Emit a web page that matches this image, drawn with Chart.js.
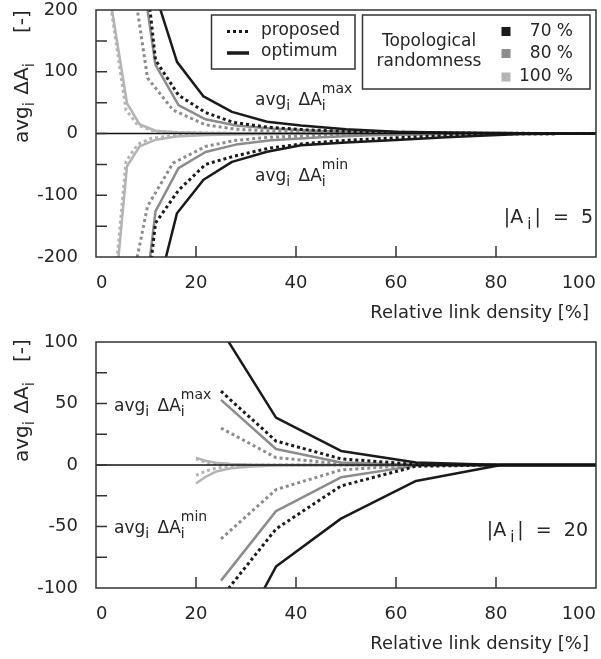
<!DOCTYPE html>
<html><head><meta charset="utf-8">
<script src="https://cdn.jsdelivr.net/npm/chart.js@4"></script>
<style>
html,body{margin:0;padding:0;background:#fff;}
#w{position:relative;width:601px;height:659px;overflow:hidden;}
.c{position:absolute;left:0;width:601px;}
</style></head><body>
<div id="w">
<div class="c" style="top:0;height:330px"><canvas id="c1"></canvas></div>
<div class="c" style="top:330px;height:329px"><canvas id="c2"></canvas></div>
</div>
<script>
// ---------- tick values ----------
const xTickValues = [0, 20, 40, 60, 80, 100];
const yTicksTop = [-200, -150, -100, -50, 0, 50, 100, 150, 200];
const yLabelsTop = [-200, -100, 0, 100, 200];
const yTicksBottom = [-100, -75, -50, -25, 0, 25, 50, 75, 100];
const yLabelsBottom = [-100, -50, 0, 50, 100];

// ---------- top panel, |A_i| = 5 ----------
const t70optX   = [10.9, 16.2, 21.5, 27.2, 34.2, 41, 50, 60, 70, 85, 100];
const t70optMax = [251, 116, 60, 35, 19, 13, 7, 3, 1.5, 0.3, 0];
const t70optMin = [-300, -129, -75, -46, -29.5, -19, -14.5, -10.5, -6, -1, 0];

const t70propX   = [10, 11.9, 16.5, 21.9, 27.5, 34.5, 42, 50, 60, 70, 80, 100];
const t70propMax = [260, 119, 62, 34, 18, 10, 6, 3.5, 2, 1, 0.3, 0];
const t70propMin = [-280, -145, -92, -50, -37, -24, -16, -11, -7, -3.5, -0.5, 0];

const t80optX   = [9.5, 11.9, 16.5, 21.9, 28, 35, 45, 55, 70, 85, 100];
const t80optMax = [245, 111, 46, 23, 13, 8, 4, 2, 0.7, 0.1, 0];
const t80optMin = [-290, -126, -56, -30, -18, -11, -6, -3, -1, -0.2, 0];

const t80propX   = [8, 10.3, 15.4, 21.9, 28, 35, 45, 60, 100];
const t80propMax = [215, 90, 38, 14, 7, 4, 2, 0.5, 0];
const t80propMin = [-210, -118, -48, -21, -11, -6, -3, -1, 0];

const t100optX   = [3, 6.2, 8.7, 12, 16, 22, 30, 40, 100];
const t100optMax = [210, 49, 15, 4, 2, 1, 0.5, 0.2, 0];
const t100optMin = [-330, -53, -21, -10, -5, -2.5, -1.2, -0.4, 0];

const t100propX   = [2.8, 6, 8.3, 11, 15, 22, 30, 100];
const t100propMax = [215, 38, 14, 5, 2, 1, 0.3, 0];
const t100propMin = [-330, -45, -18, -8, -4, -1.5, -0.5, 0];

// ---------- bottom panel, |A_i| = 20 ----------
const bX = [25, 36, 49, 64, 81, 100];
const b70optMax  = [110, 38.5, 11.4, 2, 0, 0];
const b70optMin  = [-166, -82.6, -43.6, -13, 0, 0];
const b70propMax = [60, 19.5, 5, 0.5, 0, 0];
const b70propMin = [-108, -52, -17, -1, 0, 0];
const b80optMax  = [53, 13, 2, 0, 0, 0];
const b80optMin  = [-94, -37.5, -10, -0.5, 0, 0];
const b80propMax = [30, 6, 1, 0, 0, 0];
const b80propMin = [-60, -20, -4, 0, 0, 0];

const b100X = [20, 22, 24, 27, 31, 36, 49, 100];
const b100optMax  = [6, 3.3, 1.8, 0.8, 0.3, 0.1, 0, 0];
const b100optMin  = [-15, -9.4, -5.3, -2.6, -1.2, -0.5, 0, 0];
const b100propMax = [5, 2, 1, 0.4, 0.1, 0, 0, 0];
const b100propMin = [-8.4, -4.9, -2.5, -1, -0.4, -0.1, 0, 0];

// ---------- styling ----------
const FONT = '"DejaVu Sans", Verdana, sans-serif';
const TXT = '#262626';
const C70 = '#1a1a1a', C80 = '#8c8c8c', C100 = '#b4b4b4';

function series(xs, ys, color, dotted) {
  return {
    data: xs.map((x, i) => ({x: x, y: ys[i]})),
    borderColor: color,
    borderWidth: dotted ? 3 : 2.5,
    borderDash: dotted ? [3, 3] : [],
    borderCapStyle: 'butt',
    borderJoinStyle: 'round',
    pointRadius: 0,
    fill: false,
    tension: 0
  };
}

function drawRich(ctx, x, y, parts, fs, ss, align) {
  ctx.textAlign = 'left';
  ctx.textBaseline = 'alphabetic';
  const meas = [];
  let w = 0;
  for (const p of parts) {
    let m;
    if (typeof p === 'string') {
      ctx.font = fs + 'px ' + FONT;
      m = ctx.measureText(p).width;
    } else {
      ctx.font = ss + 'px ' + FONT;
      m = Math.max(p.sub ? ctx.measureText(p.sub).width : 0, p.sup ? ctx.measureText(p.sup).width : 0) + (p.pad || 0) + (p.dx || 0);
    }
    meas.push(m); w += m;
  }
  let cx = align === 'right' ? x - w : x;
  const subOff = Math.round(fs * 0.3), supOff = Math.round(fs * 0.68);
  parts.forEach((p, i) => {
    if (typeof p === 'string') {
      ctx.font = fs + 'px ' + FONT;
      ctx.fillText(p, cx, y);
    } else {
      ctx.font = ss + 'px ' + FONT;
      if (p.sub) ctx.fillText(p.sub, cx + (p.dx || 0), y + subOff);
      if (p.sup) ctx.fillText(p.sup, cx + (p.dx || 0), y - supOff);
    }
    cx += meas[i];
  });
  return w;
}

function makePlugin(cfg) {
  return {
    id: 'deco' + cfg.name,
    afterDatasetsDraw(chart) {
      const ctx = chart.ctx;
      const a = chart.chartArea;
      const xs = chart.scales.x, ys = chart.scales.y;
      ctx.save();
      // zero line
      const y0 = ys.getPixelForValue(0);
      ctx.strokeStyle = '#111';
      ctx.lineWidth = 1.5;
      ctx.beginPath(); ctx.moveTo(a.left, y0); ctx.lineTo(a.right, y0); ctx.stroke();
      // frame
      ctx.strokeStyle = '#333';
      ctx.lineWidth = 1.5;
      ctx.strokeRect(a.left, a.top, a.right - a.left, a.bottom - a.top);
      // inward ticks
      ctx.beginPath();
      cfg.yTicks.forEach(v => {
        if (v === cfg.yTicks[0] || v === cfg.yTicks[cfg.yTicks.length - 1]) return;
        const py = ys.getPixelForValue(v);
        ctx.moveTo(a.left, py); ctx.lineTo(a.left + 11, py);
      });
      xTickValues.forEach(v => {
        if (v === 0 || v === 100) return;
        const px = xs.getPixelForValue(v);
        ctx.moveTo(px, a.bottom); ctx.lineTo(px, a.bottom - 11);
      });
      ctx.stroke();

      ctx.fillStyle = TXT;
      // x axis title
      ctx.font = '18px ' + FONT;
      ctx.textAlign = 'right';
      ctx.textBaseline = 'alphabetic';
      ctx.fillText('Relative link density [%]', 589, a.bottom + 61);

      // y axis title (rotated)
      ctx.save();
      ctx.translate(27.5, cfg.yTitleStart);
      ctx.rotate(-Math.PI / 2);
      drawRich(ctx, 0, 0, ['avg', {sub: 'i', pad: 1}, ' \u0394A', {sub: 'i'}], 20, 15, 'left');
      ctx.font = '20px ' + FONT;
      ctx.textAlign = 'left';
      ctx.fillText('[-]', cfg.unitOffset, 0);
      ctx.restore();

      // annotations
      ctx.fillStyle = TXT;
      drawRich(ctx, cfg.annX, cfg.maxY, ['avg', {sub: 'i', pad: 3}, ' \u0394A', {sub: 'i', sup: 'max'}], 17, 14, 'left');
      drawRich(ctx, cfg.annX, cfg.minY, ['avg', {sub: 'i', pad: 3}, ' \u0394A', {sub: 'i', sup: 'min'}], 17, 14, 'left');
      drawRich(ctx, cfg.sizeX, cfg.sizeY, ['|A', {sub: 'i', dx: 4, pad: 3}, '|  =  ' + cfg.size], 19, 15, 'right');

      if (cfg.legend) {
        ctx.strokeStyle = '#333';
        ctx.lineWidth = 1.5;
        ctx.strokeRect(211.5, 15, 143.5, 54);
        ctx.strokeRect(362.5, 15, 227.5, 74);
        // line samples
        ctx.strokeStyle = C70;
        ctx.lineWidth = 3;
        ctx.setLineDash([3, 3]);
        ctx.beginPath(); ctx.moveTo(227, 31.5); ctx.lineTo(250, 31.5); ctx.stroke();
        ctx.setLineDash([]);
        ctx.lineWidth = 3.5;
        ctx.beginPath(); ctx.moveTo(227, 53); ctx.lineTo(249, 53); ctx.stroke();
        ctx.fillStyle = TXT;
        ctx.font = '17px ' + FONT;
        ctx.textAlign = 'left';
        ctx.textBaseline = 'middle';
        ctx.fillText('proposed', 261, 31);
        ctx.fillText('optimum', 261, 52);
        ctx.textAlign = 'center';
        ctx.fillText('Topological', 429, 42);
        ctx.fillText('randomness', 429, 62);
        const sw = [[C70, 31.5, '70 %'], [C80, 53.5, '80 %'], [C100, 77, '100 %']];
        sw.forEach(s => {
          ctx.fillStyle = s[0];
          ctx.fillRect(501.5, s[1] - 4.5, 9, 9);
          ctx.fillStyle = TXT;
          ctx.textAlign = 'right';
          ctx.fillText(s[2], 573, s[1]);
        });
      }
      ctx.restore();
    }
  };
}

function makeChart(id, cfg) {
  return new Chart(document.getElementById(id), {
    type: 'line',
    data: { datasets: cfg.datasets },
    options: {
      responsive: true,
      maintainAspectRatio: false,
      animation: false,
      devicePixelRatio: 1,
      layout: { padding: { left: 0, right: 5, top: cfg.padTop, bottom: 0 } },
      plugins: { legend: { display: false }, tooltip: { enabled: false } },
      scales: {
        x: {
          type: 'linear', min: 0, max: 100,
          afterBuildTicks: s => { s.ticks = xTickValues.map(v => ({value: v})); },
          afterFit: s => { s.height = cfg.xHeight; s.paddingLeft = 0; s.paddingRight = 0; s.paddingTop = 0; s.paddingBottom = 0; },
          ticks: { align: 'inner', color: TXT, padding: 16, maxRotation: 0, font: { family: FONT, size: 18 } },
          grid: { display: false, drawTicks: false },
          border: { display: false }
        },
        y: {
          type: 'linear', min: cfg.yTicks[0], max: cfg.yTicks[cfg.yTicks.length - 1],
          afterBuildTicks: s => { s.ticks = cfg.yTicks.map(v => ({value: v})); },
          afterFit: s => { s.width = 96; s.paddingTop = 0; s.paddingBottom = 0; s.paddingLeft = 0; s.paddingRight = 0; },
          ticks: {
            color: TXT, padding: 18, font: { family: FONT, size: 18 },
            callback: v => cfg.yLabels.includes(v) ? String(v) : ''
          },
          grid: { display: false, drawTicks: false },
          border: { display: false }
        }
      }
    },
    plugins: [makePlugin(cfg)]
  });
}

makeChart('c1', {
  name: 'top', padTop: 10, xHeight: 73,
  yTicks: yTicksTop, yLabels: yLabelsTop,
  yTitleStart: 143, unitOffset: 110,
  annX: 255, maxY: 105, minY: 181,
  sizeX: 593, sizeY: 223, size: '5',
  legend: true,
  datasets: [
    series(t70optX, t70optMax, C70, false),
    series(t70optX, t70optMin, C70, false),
    series(t70propX, t70propMax, C70, true),
    series(t70propX, t70propMin, C70, true),
    series(t80optX, t80optMax, C80, false),
    series(t80optX, t80optMin, C80, false),
    series(t80propX, t80propMax, C80, true),
    series(t80propX, t80propMin, C80, true),
    series(t100optX, t100optMax, C100, false),
    series(t100optX, t100optMin, C100, false),
    series(t100propX, t100propMax, C100, true),
    series(t100propX, t100propMin, C100, true)
  ]
});

makeChart('c2', {
  name: 'bottom', padTop: 12, xHeight: 71,
  yTicks: yTicksBottom, yLabels: yLabelsBottom,
  yTitleStart: 132, unitOffset: 100,
  annX: 114, maxY: 81, minY: 203,
  sizeX: 588, sizeY: 206, size: '20',
  legend: false,
  datasets: [
    series(bX, b70optMax, C70, false),
    series(bX, b70optMin, C70, false),
    series(bX, b70propMax, C70, true),
    series(bX, b70propMin, C70, true),
    series(bX, b80optMax, C80, false),
    series(bX, b80optMin, C80, false),
    series(bX, b80propMax, C80, true),
    series(bX, b80propMin, C80, true),
    series(b100X, b100optMax, C100, false),
    series(b100X, b100optMin, C100, false),
    series(b100X, b100propMax, C100, true),
    series(b100X, b100propMin, C100, true)
  ]
});
</script>
</body></html>
